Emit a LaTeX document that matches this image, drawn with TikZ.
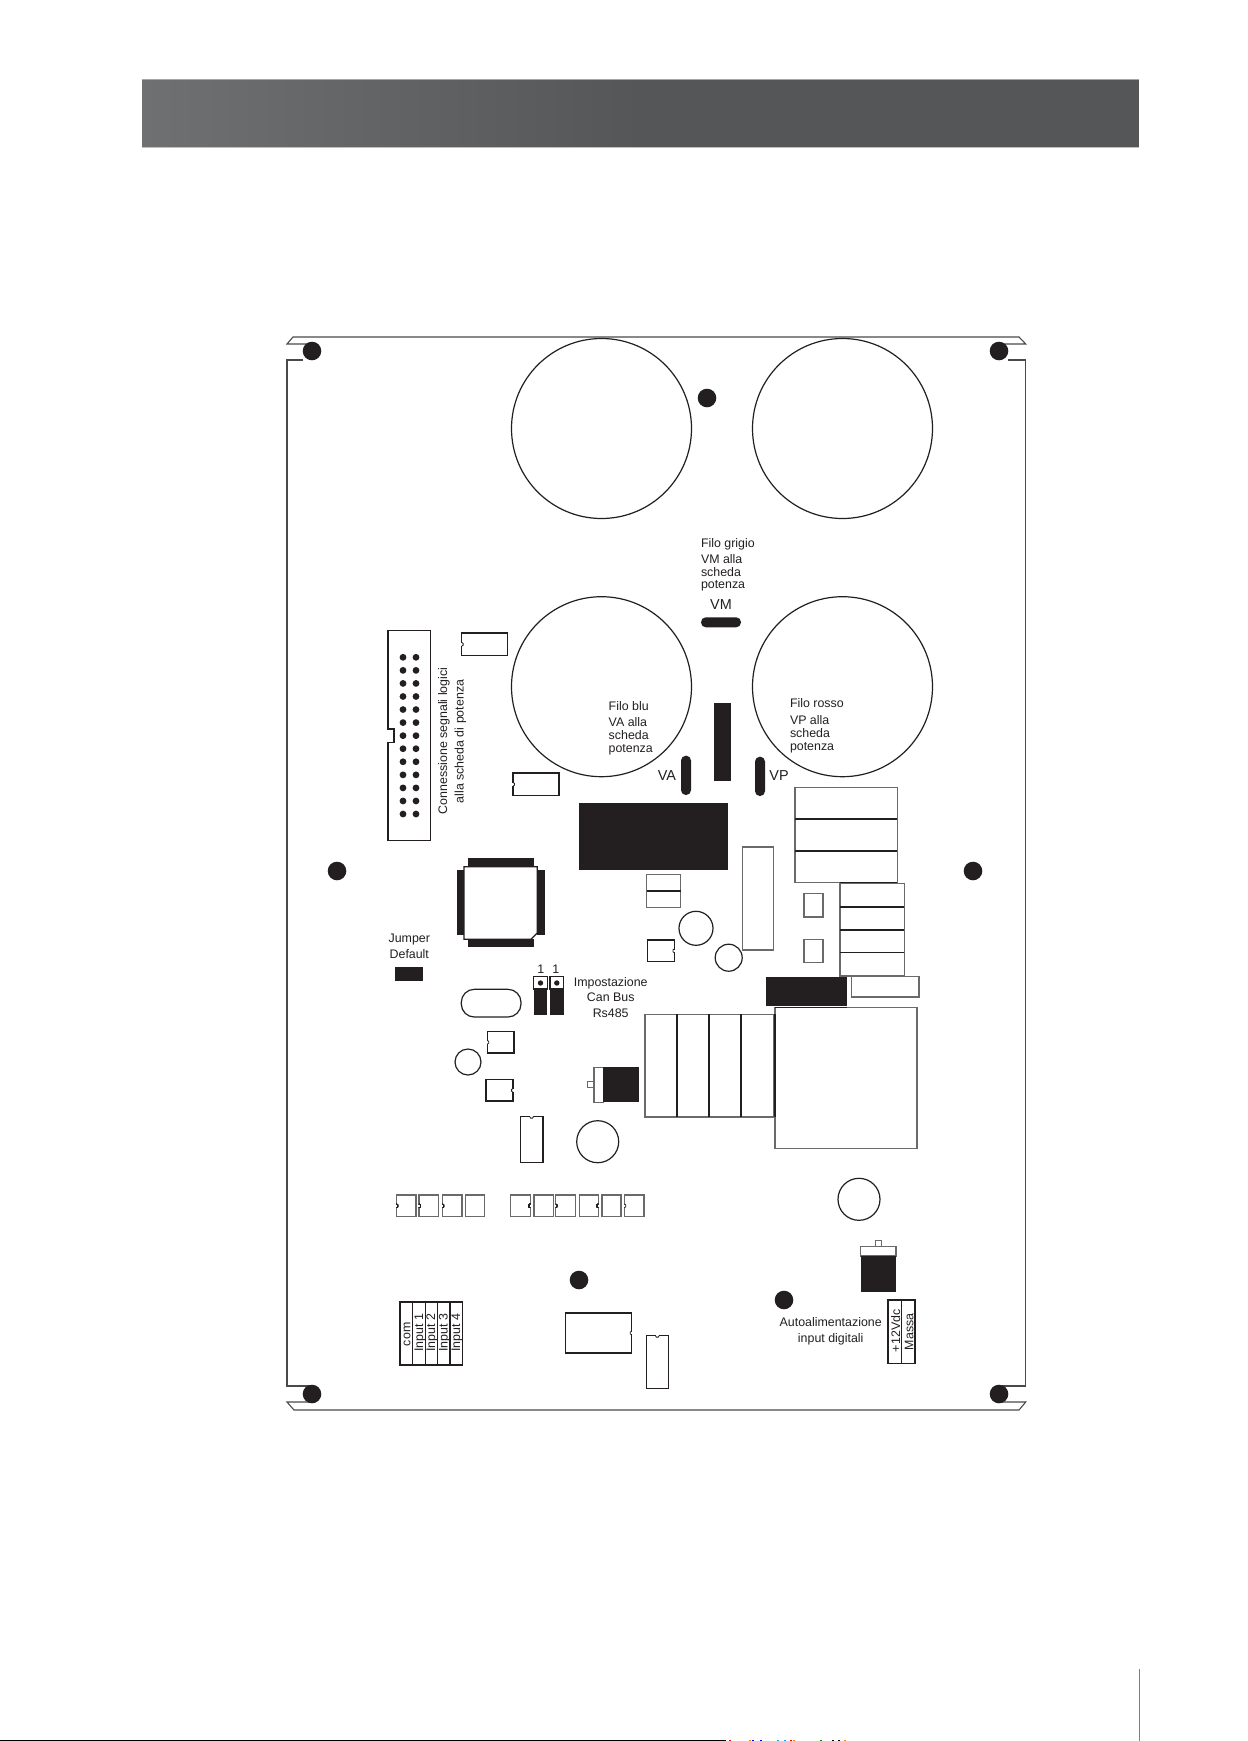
\documentclass[tikz,border=0pt]{standalone}
\usepackage{fontspec}
\setmainfont{Liberation Sans}
\definecolor{ink}{HTML}{231F20}
\definecolor{barL}{HTML}{6F7072}
\definecolor{barR}{HTML}{555658}
\definecolor{soft}{HTML}{6A6A6A}
\definecolor{edge}{HTML}{4A4A4A}
\tikzset{
  pcb/.style={draw=ink,line width=0.6pt,fill=white},
  pcbthin/.style={draw=soft,line width=0.55pt,fill=white},
  outline/.style={draw=edge,line width=0.55pt},
  solidblk/.style={fill=ink,draw=none},
  lbl/.style={inner sep=0pt,outer sep=0pt,text=ink,font=\fontsize{6.2}{7}\selectfont},
  lblbig/.style={lbl,font=\fontsize{7.2}{8}\selectfont}
}
\newcommand{\chipbox}[5][pcb]{\draw[#1] (#2,#3) rectangle (#4,#5);}
\newcommand{\notchL}[2]{\draw[draw=white,line width=0.7pt] (#1,#2-1.2) -- (#1,#2+1.2);\draw[draw=ink,line width=0.4pt] (#1,#2-1.8) -- (#1+1.4,#2-1) -- (#1+1.4,#2+1) -- (#1,#2+1.8);}
\newcommand{\notchR}[2]{\draw[draw=white,line width=0.7pt] (#1,#2-1.2) -- (#1,#2+1.2);\draw[draw=ink,line width=0.4pt] (#1,#2-1.8) -- (#1-1.4,#2-1) -- (#1-1.4,#2+1) -- (#1,#2+1.8);}
\newcommand{\notchT}[2]{\draw[draw=white,line width=0.7pt] (#1-1.2,#2) -- (#1+1.2,#2);\draw[draw=ink,line width=0.4pt] (#1-1.8,#2) -- (#1-1,#2+1.4) -- (#1+1,#2+1.4) -- (#1+1.8,#2);}
\begin{document}
\begin{tikzpicture}[x=0.5pt,y=-0.5pt]
\useasboundingbox[fill=white] (0,0) rectangle (1248,1741);
% header bar
\shade[left color=barL,right color=barR,draw=none] (142,79) rectangle (640,147);
\fill[barR] (640,79) rectangle (1139,147);
\draw[draw=gray!70,line width=0.4pt] (142,79) -- (1139,79);
\draw[draw=gray!50,line width=0.4pt] (142,147) -- (1139,147);
% page rule and trimmed bottom edge
\draw[draw=gray,line width=0.6pt] (1139.3,1669) -- (1139.3,1741);
\fill[black] (0,1739.7) rectangle (726,1741);
\foreach \mx/\mc in {729/red,749/orange,752/blue,760/blue,777/cyan,784/cyan,790/red,793/orange,820/green!50!black,832/black,838/black,844/orange}
  \fill[\mc] (\mx,1739.7) rectangle (\mx+1.5,1741);
% board outline
\draw[outline] (310,344) -- (287,344) -- (293,337) -- (1019,337) -- (1025.7,344) -- (1002,344);
\draw[outline] (303,360) -- (287,360) -- (287,1386) -- (310,1386);
\draw[outline] (310,1402) -- (287,1402) -- (294,1410) -- (1019,1410) -- (1025.7,1402) -- (1002,1402);
\draw[outline] (1008,360) -- (1025.7,360) -- (1025.7,1386) -- (1002,1386);
% mounting holes
\foreach \hx/\hy in {312/351,999/351,707/398,337/871,973/871,312/1394,999/1394,579/1280,784/1300}
  \fill[ink] (\hx,\hy) circle[radius=9.3];
% big capacitors
\foreach \cx/\cy in {601.5/428.5,842.5/428.5,601.5/686.7,842.5/686.7}
  \draw[pcb,fill=none] (\cx,\cy) circle[radius=90];
% IDC connector
\draw[pcb] (388,630.7) -- (430.7,630.7) -- (430.7,840.7) -- (388,840.7) -- (388,742.7) -- (394,742.7) -- (394,729) -- (388,729) -- cycle;
\foreach \r in {0,...,12}{
  \fill[ink] (403,657.3+13.06*\r) circle[radius=3.4];
  \fill[ink] (416,657.3+13.06*\r) circle[radius=3.4];
}
\node (lblconn) [lbl,rotate=90,anchor=base] at (447,741) {Connessione segnali logici};
\node (lblalla) [lbl,rotate=90,anchor=base] at (463.5,741.5) {alla scheda di potenza};
% small DIPs
\chipbox{461.7}{633}{507.7}{655.7}\notchL{461.7}{644.3}
\chipbox{513}{773}{559}{795.7}\notchL{513}{784.3}
% QFP
\fill[ink] (467.7,857.7) rectangle (534,866.7);
\fill[ink] (467.7,939.3) rectangle (534,946.7);
\fill[ink] (457,870) rectangle (464,935);
\fill[ink] (537.3,870) rectangle (545,935);
\draw[pcb] (464,866.7) -- (537.3,866.7) -- (537.3,933) -- (531,939.3) -- (464,939.3) -- cycle;
% wire labels
\node (fgA) [lbl,anchor=base west] at (701,547) {Filo grigio};
\node (fgB) [lbl,anchor=base west] at (701,563) {VM alla};
\node (fgC) [lbl,anchor=base west] at (701,576) {scheda};
\node (fgD) [lbl,anchor=base west] at (701,588) {potenza};
\node (lblvm) [lblbig,anchor=center] at (721,605) {VM};
\node (fbA) [lbl,anchor=base west] at (608.7,710) {Filo blu};
\node (fbB) [lbl,anchor=base west] at (608.7,726.7) {VA alla};
\node (fbC) [lbl,anchor=base west] at (608.7,739) {scheda};
\node (fbD) [lbl,anchor=base west] at (608.7,752) {potenza};
\node (frA) [lbl,anchor=base west] at (790,707.7) {Filo rosso};
\node (frB) [lbl,anchor=base west] at (790,724) {VP alla};
\node (frC) [lbl,anchor=base west] at (790,737) {scheda};
\node (frD) [lbl,anchor=base west] at (790,750) {potenza};
\node (lblva) [lblbig,anchor=center] at (667,776) {VA};
\node (lblvp) [lblbig,anchor=center] at (779,776) {VP};
% pills
\draw[solidblk,rounded corners=2.4pt] (701,617.3) rectangle (741,627.3);
\draw[solidblk,rounded corners=2.4pt] (681,755.7) rectangle (691,795);
\draw[solidblk,rounded corners=2.4pt] (755,756.7) rectangle (765,796);
% black blocks
\fill[ink] (714,702.7) rectangle (730.7,781.3);
\fill[ink] (579,803) rectangle (728,870);
% two-cell box
\chipbox[pcbthin]{646.7}{874.3}{680.7}{907.3}
\draw[draw=ink,line width=0.8pt] (646.7,890.7) -- (680.7,890.7);
% circles
\draw[pcb,fill=none] (696,928.3) circle[radius=17];
\draw[pcb,fill=none] (728.7,957.7) circle[radius=13.5];
\chipbox{647.3}{940}{674.3}{961.7}\notchR{674.3}{950.8}
% tall rect
\chipbox[pcbthin]{742.3}{847}{773.7}{950}
% 3-stack
\chipbox[pcbthin]{795}{787.3}{897.3}{882.7}
\draw[draw=ink,line width=0.9pt] (795,819) -- (897.3,819);
\draw[draw=ink,line width=0.9pt] (795,850.7) -- (897.3,850.7);
\draw[draw=ink,line width=0.9pt] (840,882.7) -- (897.3,882.7);
% 4-stack
\chipbox[pcbthin]{840}{883.3}{904.3}{976}
\foreach \ly in {907,930,952.7} \draw[draw=ink,line width=0.7pt] (840,\ly) -- (904.3,\ly);
\chipbox[pcbthin]{804}{893.3}{823}{917}
\chipbox[pcbthin]{804}{939.3}{823}{962.3}
% power blocks
\chipbox[pcbthin]{851.7}{976.7}{919}{997}
\chipbox[pcbthin]{775}{1007.3}{917}{1148.7}
\fill[ink] (765.7,976.7) rectangle (847.3,1005.7);
\draw[draw=ink,line width=0.8pt] (775,1007.3) -- (847.3,1007.3);
% four-cell vertical stack
\chipbox[pcbthin]{645}{1014.3}{774}{1117}
\foreach \lx in {676.7,709,741} \draw[draw=ink,line width=0.9pt] (\lx,1014.3) -- (\lx,1117);
\draw[draw=ink,line width=0.8pt] (775,1014.3) -- (775,1117);
% jumper default
\node (jA) [lbl,anchor=base] at (409.3,942) {Jumper};
\node (jB) [lbl,anchor=base] at (409.3,958.7) {Default};
\fill[ink] (395.3,966.7) rectangle (423,981);
% CAN jumpers
\node (oneA) [lbl,anchor=center] at (540.7,969.3) {1};
\node (oneB) [lbl,anchor=center] at (555.7,969.3) {1};
\foreach \jx in {533.7,550}{
  \draw[pcb] (\jx,976.7) rectangle (\jx+13.6,989);
  \fill[ink] (\jx,989) rectangle (\jx+13.6,1015);
  \fill[ink] (\jx+6.8,983) circle[radius=2.7];
}
\node (csA) [lbl,anchor=base] at (610.7,986) {Impostazione};
\node (csB) [lbl,anchor=base] at (610.7,1001) {Can Bus};
\node (csC) [lbl,anchor=base] at (610.7,1017.7) {Rs485};
% crystal and neighbours
\draw[pcb,rounded corners=6.5pt] (461.3,989.3) rectangle (521,1017);
\chipbox{487.3}{1031.7}{514}{1053}\notchL{487.3}{1042.3}
\draw[pcb,fill=none] (468,1062) circle[radius=13];
\chipbox{486}{1079.7}{513}{1101}\notchR{513}{1090.3}
% transistor horizontal
\chipbox[pcbthin]{594}{1067.3}{603.3}{1102.3}
\chipbox[pcbthin]{587.3}{1081.7}{594}{1087.7}
\fill[ink] (603.3,1067.3) rectangle (639,1102.3);
% DIP and cap
\chipbox{520.3}{1116.7}{543}{1162.7}\notchT{531.6}{1116.7}
\draw[pcb,fill=none] (597.7,1141.7) circle[radius=21];
% small squares
\foreach \sa/\sb in {396.3/416,419/438.7,442.3/462,465.3/484.3,510.7/530.3,534/553.3,555.7/575.3,579.3/598.3,602/621,624.3/644}
  \chipbox[pcbthin]{\sa}{1195}{\sb}{1216.7}
\foreach \nx in {396.3,419,442.3,555.7,624.3} \notchL{\nx}{1205.8}
\foreach \nx in {530.3,598.3} \notchR{\nx}{1205.8}
% input terminal
\chipbox{400}{1302}{462.3}{1365}
\foreach \lx in {412.7,425.3,437.7,450} \draw[draw=ink,line width=0.6pt] (\lx,1302) -- (\lx,1365);
\node (tcom) [lbl,rotate=90,anchor=base west] at (410.3,1346) {com};
\node (tin1) [lbl,rotate=90,anchor=base west] at (423,1351.7) {Input 1};
\node (tin2) [lbl,rotate=90,anchor=base west] at (435,1351.7) {Input 2};
\node (tin3) [lbl,rotate=90,anchor=base west] at (447.7,1351.7) {Input 3};
\node (tin4) [lbl,rotate=90,anchor=base west] at (460,1351.7) {Input 4};
% lower ICs
\chipbox{565.3}{1313}{631.7}{1353}\notchR{631.7}{1333}
\chipbox{646.3}{1335.7}{668.3}{1388.7}\notchT{657.3}{1335.7}
% right lower
\draw[pcb,fill=none] (859,1199.3) circle[radius=21];
\chipbox[pcbthin]{875.7}{1240.7}{881.7}{1246.7}
\chipbox[pcbthin]{860.7}{1246.7}{896}{1256}
\fill[ink] (860.7,1256) rectangle (896,1291.7);
\chipbox{888}{1300}{915}{1363.7}
\draw[draw=ink,line width=0.6pt] (901.7,1300) -- (901.7,1363.7);
\node (t12) [lbl,rotate=90,anchor=base west] at (900,1352) {+12Vdc};
\node (tmas) [lbl,rotate=90,anchor=base west] at (913.3,1350) {Massa};
\node (aA) [lbl,anchor=base] at (830.7,1326) {Autoalimentazione};
\node (aB) [lbl,anchor=base] at (830.7,1342) {input digitali};
\end{tikzpicture}
\end{document}
